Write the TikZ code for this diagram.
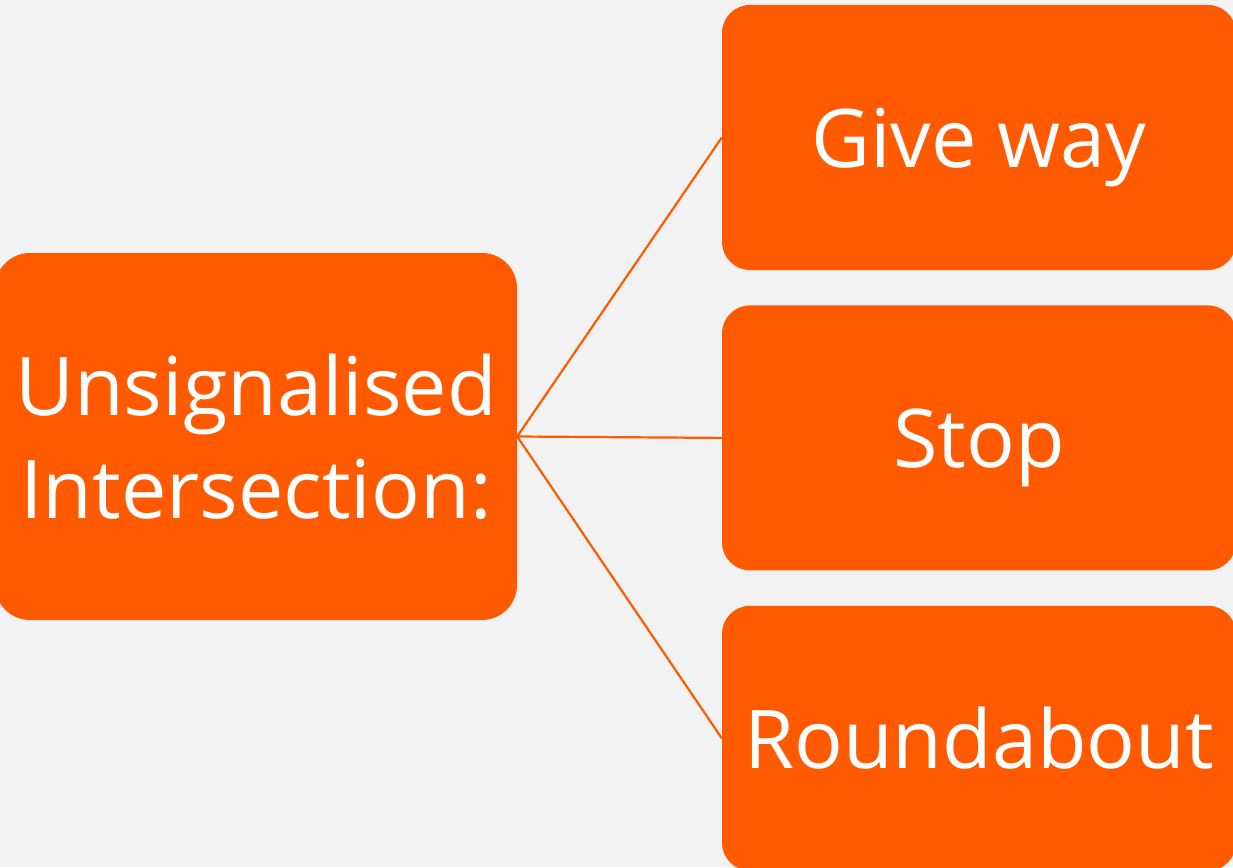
\documentclass[tikz,border=0pt]{standalone}
\usepackage{fontspec}
\setmainfont{Open Sans}
\usepackage{tikz}
\usetikzlibrary{positioning}
\definecolor{boxclr}{HTML}{FF5A00}
\definecolor{bgclr}{HTML}{F2F2F2}
\tikzset{ %
  ,every node/.style={font=\fontsize{81}{103}\selectfont}
  ,root/.style={fill=boxclr, text=white, rounded corners=35pt, minimum width=522pt, minimum height=367pt, align=center, inner sep=0}
  ,leaf/.style={fill=boxclr, text=white, rounded corners=28pt, minimum width=514pt, minimum height=265pt, inner sep=0, text height=80pt, text depth=20pt}
  ,link/.style={draw=boxclr, line width=2.2pt}
}
\begin{document}
\begin{tikzpicture}[x=1pt, y=-1pt]
  \fill[bgclr] (0,0) rectangle (1233,867);
  \useasboundingbox (0,0) rectangle (1233,867);
  \node[root] (U) at (256,436.5) {Unsignalised\\Intersection:};
  \node[leaf] (G) at (979,137.5) {Give way};
  \node[leaf, below=35pt of G] (S) {Stop};
  \node[leaf, below=35pt of S] (R) {Roundabout};
  \draw[link] (U.east) -- (G.west) (U.east) -- (S.west) (U.east) -- (R.west);
\end{tikzpicture}
\end{document}
